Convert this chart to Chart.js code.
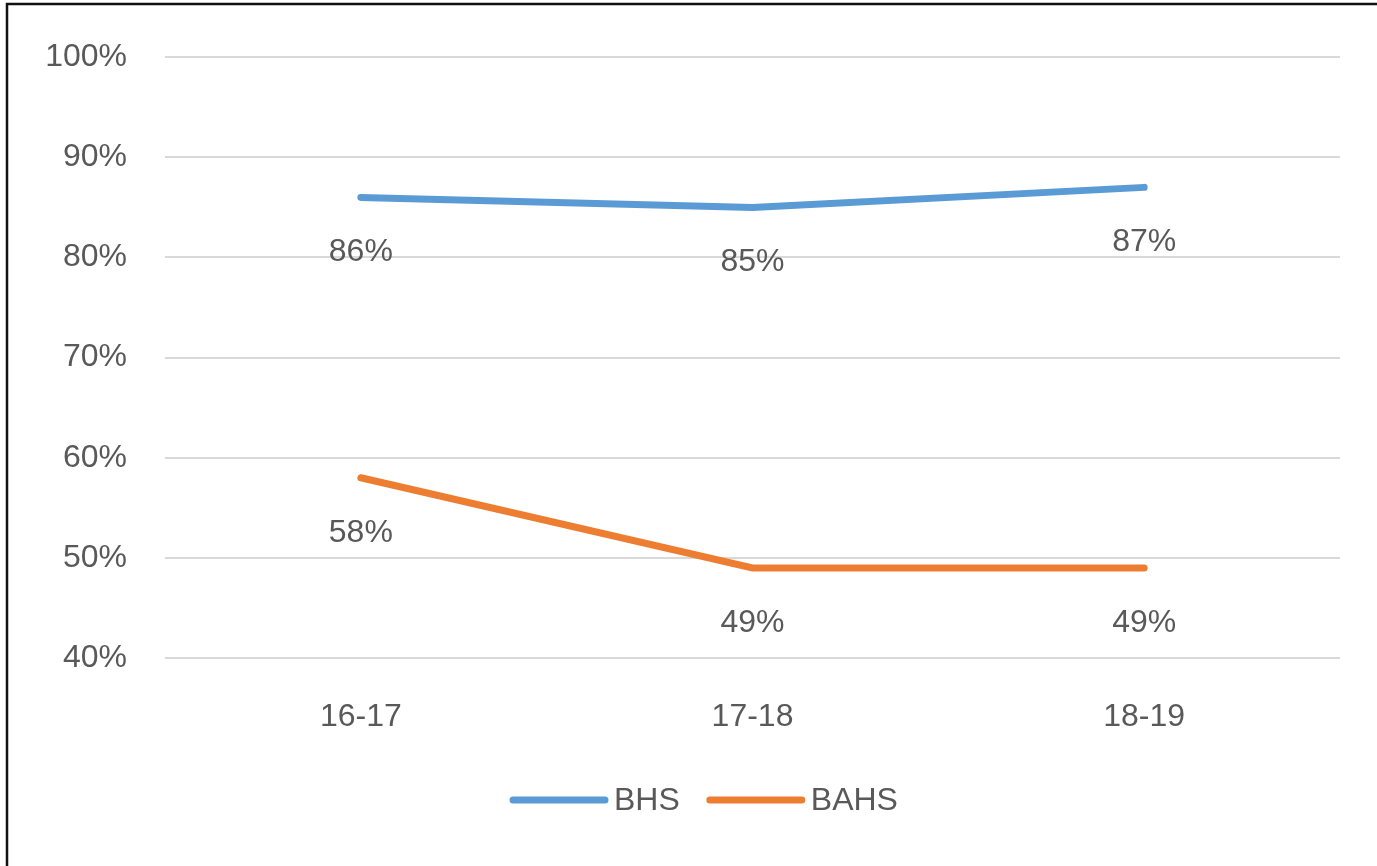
<!DOCTYPE html>
<html>
<head>
<meta charset="utf-8">
<script src="https://cdn.jsdelivr.net/npm/chart.js@4/dist/chart.umd.min.js"></script>
<style>
  html, body { margin: 0; padding: 0; background: #fff; overflow: hidden; }
  canvas { display: block; }
</style>
</head>
<body>
<canvas id="grafico" width="1377" height="866"></canvas>
<script>
// Datos del gráfico
const temporadas = ['16-17', '17-18', '18-19'];
const valoresBHS = [86, 85, 87];
const valoresBAHS = [58, 49, 49];
const ticksY = [40, 50, 60, 70, 80, 90, 100];

const colorTexto = '#595959';
const fuente = { family: 'Liberation Sans', size: 32 };

// Marco negro alrededor de la imagen
const marco = {
  id: 'marco',
  afterDraw(chart) {
    const ctx = chart.ctx;
    ctx.save();
    ctx.strokeStyle = '#111';
    ctx.lineWidth = 2.5;
    ctx.beginPath();
    ctx.moveTo(7, 866);
    ctx.lineTo(7, 4);
    ctx.lineTo(1377, 4);
    ctx.stroke();
    ctx.restore();
  }
};

// Etiquetas de valores debajo de cada punto
const etiquetas = {
  id: 'etiquetas',
  afterDatasetsDraw(chart) {
    const ctx = chart.ctx;
    ctx.save();
    ctx.fillStyle = colorTexto;
    ctx.font = `${fuente.size}px ${fuente.family}`;
    ctx.textAlign = 'center';
    ctx.textBaseline = 'middle';
    chart.data.datasets.forEach((ds, i) => {
      chart.getDatasetMeta(i).data.forEach((pt, j) => {
        ctx.fillText(ds.data[j] + '%', pt.x, pt.y + 55);
      });
    });
    ctx.restore();
  }
};

// Leyenda abajo (dibujada a mano para ubicarla como en el original)
const leyenda = {
  id: 'leyenda',
  afterDraw(chart) {
    const ctx = chart.ctx;
    const y = 800;
    const largo = 92;
    ctx.save();
    ctx.font = `${fuente.size}px ${fuente.family}`;
    ctx.textBaseline = 'middle';
    ctx.lineCap = 'round';
    ctx.lineWidth = 7;
    let x = 513;
    chart.data.datasets.forEach((ds) => {
      ctx.strokeStyle = ds.borderColor;
      ctx.beginPath();
      ctx.moveTo(x, y);
      ctx.lineTo(x + largo, y);
      ctx.stroke();
      x += largo + 9;
      ctx.fillStyle = colorTexto;
      ctx.fillText(ds.label, x, y + 1);
      x += ctx.measureText(ds.label).width + 30;
    });
    ctx.restore();
  }
};

new Chart(document.getElementById('grafico'), {
  type: 'line',
  data: {
    labels: temporadas,
    datasets: [
      { label: 'BHS', data: valoresBHS, borderColor: '#5b9bd5', backgroundColor: '#5b9bd5', borderWidth: 7, pointRadius: 0, borderCapStyle: 'round', tension: 0 },
      { label: 'BAHS', data: valoresBAHS, borderColor: '#ed7d31', backgroundColor: '#ed7d31', borderWidth: 7, pointRadius: 0, borderCapStyle: 'round', tension: 0 },
    ],
  },
  options: {
    responsive: false,
    animation: false,
    devicePixelRatio: 1,
    layout: { padding: { top: 57, right: 37, bottom: 0, left: 0 } },
    plugins: {
      legend: { display: false },
      tooltip: { enabled: false },
    },
    scales: {
      x: {
        offset: true,
        afterFit(scale) { scale.height = 866 - 658; },
        grid: { display: false, drawTicks: false },
        border: { display: false },
        ticks: { color: colorTexto, font: fuente, padding: 40 },
      },
      y: {
        min: ticksY[0],
        max: ticksY[ticksY.length - 1],
        afterFit(scale) { scale.width = 165; },
        grid: { color: '#d9d9d9', lineWidth: 2, drawTicks: false },
        border: { display: false },
        ticks: { color: colorTexto, font: fuente, padding: 38, stepSize: 10, callback: (v) => v + '%' },
      },
    },
  },
  plugins: [marco, etiquetas, leyenda],
});
</script>
</body>
</html>
